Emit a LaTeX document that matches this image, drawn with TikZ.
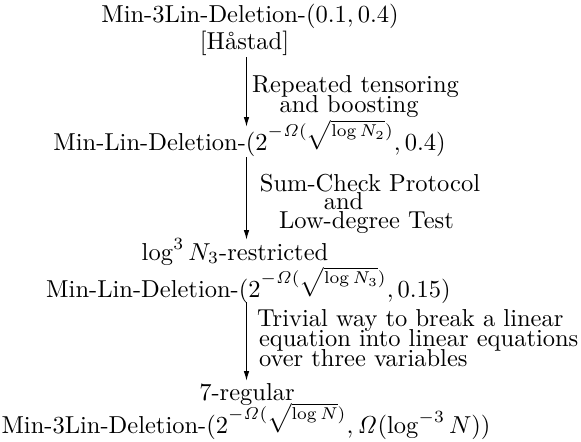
\documentclass[tikz,border=0pt]{standalone}
\usetikzlibrary{arrows.meta}
\newcommand\tallsqrt[1]{\sqrt{\vrule height 4.5pt depth 4.5pt width 0pt #1}}
\newcommand\supexp[1]{^{\raisebox{1.7pt}[0pt][0pt]{$\scriptstyle -\mathit{\Omega}(\tallsqrt{#1})$}}}
\begin{document}
\begin{tikzpicture}[x=0.4082pt,y=-0.4082pt,
  txt/.style={inner sep=0pt,outer sep=0pt,anchor=base},
  lbl/.style={inner sep=0pt,outer sep=0pt,anchor=base},
  lblw/.style={inner sep=0pt,outer sep=0pt,anchor=base west},
  arr/.style={line width=0.45pt,-{Latex[length=4pt,width=2.2pt]}}]
\useasboundingbox (0,0) rectangle (581,441);
\coordinate (col) at (246.5,0);
% main nodes
\node[txt] (n1) at (250,22) {Min-3Lin-Deletion-$(0.1,0.4)$};
\node[txt] (h) at (244.5,49) {[Håstad]};
\node[txt] (n2) at (249.5,150) {Min-Lin-Deletion-$(2\supexp{\log N_2},0.4)$};
\node[txt] (n3a) at (235,260) {$\log^3 N_3$-restricted};
\node[txt] (n3) at (248.5,297) {Min-Lin-Deletion-$(2\supexp{\log N_3},0.15)$};
\node[txt] (n4a) at (247,400) {7-regular};
\node[txt] (n4) at (246,433) {Min-3Lin-Deletion-$(2\supexp{\log N},\mathit{\Omega}(\log^{-3} N))$};
% labels
\node[lbl] (a1) at (355.5,92) {Repeated tensoring};
\node[lbl] (a2) at (349,112) {and boosting};
\node[lbl] (b1) at (370,191) {Sum-Check Protocol};
\node[lbl] (b2) at (343.5,209.5) {and};
\node[lbl] (b3) at (366.5,228) {Low-degree Test};
\node[lblw] (c1) at (257,326) {Trivial way to break a linear};
\node[lblw] (c2) at (259,346) {equation into linear equations};
\node[lblw] (c3) at (259,366) {over three variables};
% arrows
\draw[arr] ([shift={(0,8)}]h.base -| col) -- ([shift={(0,-23)}]n2.base -| col);
\draw[arr] ([shift={(0,7)}]n2.base -| col) -- ([shift={(0,-20)}]n3a.base -| col);
\draw[arr] ([shift={(0,5)}]n3.base -| col) -- ([shift={(0,-19)}]n4a.base -| col);
\end{tikzpicture}
\end{document}
